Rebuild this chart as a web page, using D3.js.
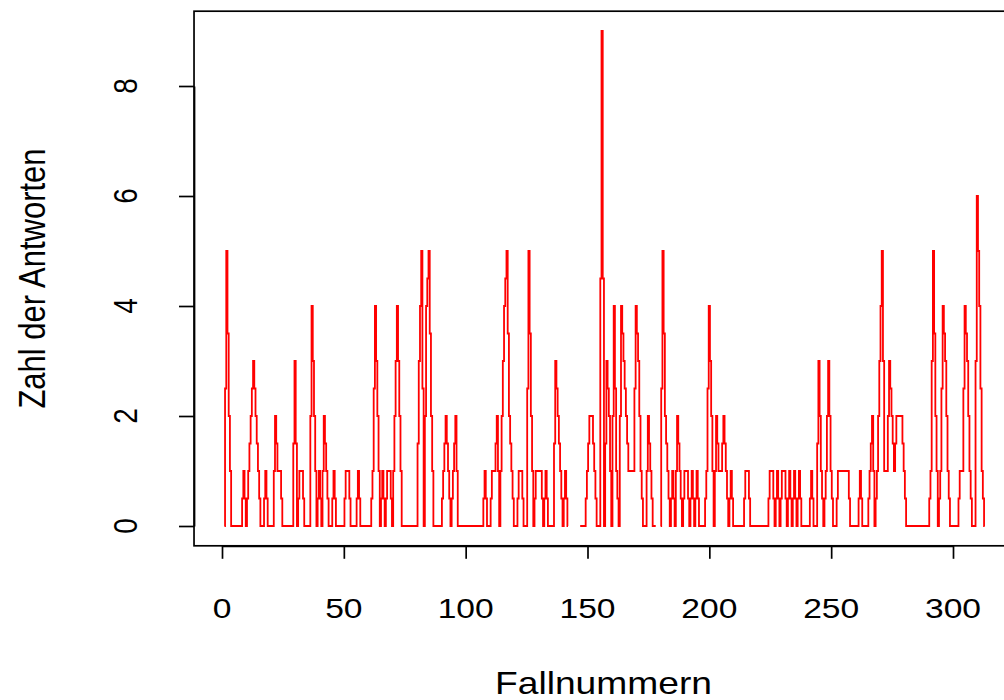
<!DOCTYPE html>
<html>
<head>
<meta charset="utf-8">
<script src="https://cdn.jsdelivr.net/npm/d3@7"></script>
<style>
  html, body { margin: 0; padding: 0; background: #fff; }
  svg { display: block; }
  text { font-family: "Liberation Sans", Arial, sans-serif; fill: #000; }
</style>
</head>
<body>
<svg id="chart" width="1004" height="700"></svg>
<script>
// Number of answers per case (null = missing case, line is broken there)
const answers = [
  0, 5, 2, 0, 0, 0, 0, 0, 1, 0,
  1, 2, 3, 2, 1, 0, 0, 1, 0, 0,
  0, 2, 1, 1, 0, 0, 0, 0, 0, 3,
  0, 1, 1, 0, 0, 0, 4, 2, 0, 1,
  0, 2, 1, 0, 0, 1, 0, 0, 0, 0,
  1, 1, 0, 0, 0, 1, 0, 0, 0, 0,
  0, 1, 4, 2, 0, 1, 0, 1, 1, 0,
  2, 4, 2, 0, 0, 0, 0, 0, 0, 0,
  3, 5, 0, 4, 5, 2, 0, 0, 0, 0,
  1, 2, 1, 0, 1, 2, 0, 0, 0, 0,
  0, 0, 0, 0, 0, 0, 0, 1, 0, 0,
  1, 1, 2, 0, 2, 4, 5, 2, 1, 0,
  0, 1, 1, 0, 0, 5, 2, 0, 1, 1,
  1, 0, 1, 0, 0, 0, 3, 2, 1, 0,
  1, 0, null, null, null, null, 0, 0, 0, 1,
  2, 2, 1, 0, 0, 9, 0, 3, 2, 0,
  4, 1, 0, 4, 3, 2, 1, 1, 1, 4,
  3, 1, 0, 0, 2, 1, 0, 0, null, 0,
  5, 2, 1, 0, 1, 0, 2, 1, 0, 1,
  1, 0, 1, 0, 1, 0, 0, 0, 1, 4,
  2, 0, 2, 1, 1, 2, 1, 0, 1, 0,
  0, 0, 0, 0, 1, 1, 0, 0, 0, 0,
  0, 0, 0, 0, 1, 1, 0, 1, 0, 1,
  1, 0, 1, 0, 1, 0, 1, 0, 0, 0,
  0, 1, 0, 0, 3, 1, 0, 1, 3, 1,
  0, 0, 1, 1, 1, 1, 1, 0, 0, 0,
  0, 1, 0, 0, 0, 1, 2, 0, 1, 3,
  5, 1, 1, 3, 2, 1, 2, 2, 2, 1,
  0, 0, 0, 0, 0, 0, 0, 0, 0, 0,
  1, 5, 2, 0, 1, 4, 3, 1, 0, 0,
  0, 0, 1, 1, 4, 3, 1, 0, 0, 6,
  4, 1, 0
];
const cases = answers.map((_, i) => i + 1);

const xTicks = [0, 50, 100, 150, 200, 250, 300];
const yTicks = [0, 2, 4, 6, 8];
const xTitle = "Fallnummern";
const yTitle = "Zahl der Antworten";

const svg = d3.select("#chart");
const stretch = 1.2;   // horizontal stretch of the lettering

const x = d3.scaleLinear().domain([0, 300]).range([222, 953]);
const y = d3.scaleLinear().domain([0, 8]).range([526, 86]);

// plot region with 4% padding around the data range
const nMax = cases[cases.length - 1];
const pad = 0.04 * (nMax - 1);
const boxL = x(1 - pad), boxR = x(nMax + pad);
const boxT = y(9 * 1.04), boxB = y(-9 * 0.04);

// Rasterised-looking segment: each segment between two cases is drawn as
// a small staircase (value -> halfway level -> next value).
function curveStair(context) {
  let px, py, started;
  return {
    areaStart() {}, areaEnd() {},
    lineStart() { started = false; },
    lineEnd() {},
    point(xv, yv) {
      xv = +xv; yv = +yv;
      if (!started) { context.moveTo(xv, yv); started = true; }
      else {
        const w = xv - px, ym = (py + yv) / 2;
        context.lineTo(px + w * 0.25, py);
        context.lineTo(px + w * 0.25, ym);
        context.lineTo(px + w * 0.75, ym);
        context.lineTo(px + w * 0.75, yv);
        context.lineTo(xv, yv);
      }
      px = xv; py = yv;
    }
  };
}

// data line
const line = d3.line()
  .defined(d => d.v !== null)
  .x(d => x(d.c))
  .y(d => y(d.v))
  .curve(curveStair);

svg.append("path")
  .datum(cases.map((c, i) => ({ c, v: answers[i] })))
  .attr("d", line)
  .attr("fill", "none")
  .attr("stroke", "#ff0000")
  .attr("stroke-width", 1.8)
  .attr("stroke-linejoin", "miter");

// frame
svg.append("rect")
  .attr("x", boxL).attr("y", boxT)
  .attr("width", boxR - boxL).attr("height", boxB - boxT)
  .attr("fill", "none").attr("stroke", "#000").attr("stroke-width", 1.7);

// x axis
const gx = svg.append("g")
  .attr("transform", `translate(0,${boxB})`)
  .call(d3.axisBottom(x).tickValues(xTicks).tickSize(13).tickSizeOuter(0));
gx.selectAll("text").remove();
gx.selectAll("path, line").attr("stroke", "#000").attr("stroke-width", 1.7);

svg.append("g").selectAll("text")
  .data(xTicks)
  .join("text")
  .attr("transform", d => `translate(${x(d)},608) scale(${stretch},1)`)
  .attr("text-anchor", "middle")
  .attr("dominant-baseline", "central")
  .attr("font-size", 28)
  .text(d => d);

// y axis
const gy = svg.append("g")
  .attr("transform", `translate(${boxL},0)`)
  .call(d3.axisLeft(y).tickValues(yTicks).tickSize(15).tickSizeOuter(0));
gy.selectAll("text").remove();
gy.selectAll("path, line").attr("stroke", "#000").attr("stroke-width", 1.7);

svg.append("g").selectAll("text")
  .data(yTicks)
  .join("text")
  .attr("transform", d => `translate(126,${y(d)}) scale(${stretch},1) rotate(-90)`)
  .attr("text-anchor", "middle")
  .attr("dominant-baseline", "central")
  .attr("font-size", 28)
  .text(d => d);

// axis titles
svg.append("text")
  .attr("transform", `translate(${(222 + 985) / 2},683) scale(${stretch},1)`)
  .attr("text-anchor", "middle")
  .attr("dominant-baseline", "central")
  .attr("font-size", 31)
  .text(xTitle);

svg.append("text")
  .attr("transform", `translate(32,${(boxT + boxB) / 2}) scale(${stretch},1) rotate(-90)`)
  .attr("text-anchor", "middle")
  .attr("dominant-baseline", "central")
  .attr("font-size", 31)
  .text(yTitle);
</script>
</body>
</html>
